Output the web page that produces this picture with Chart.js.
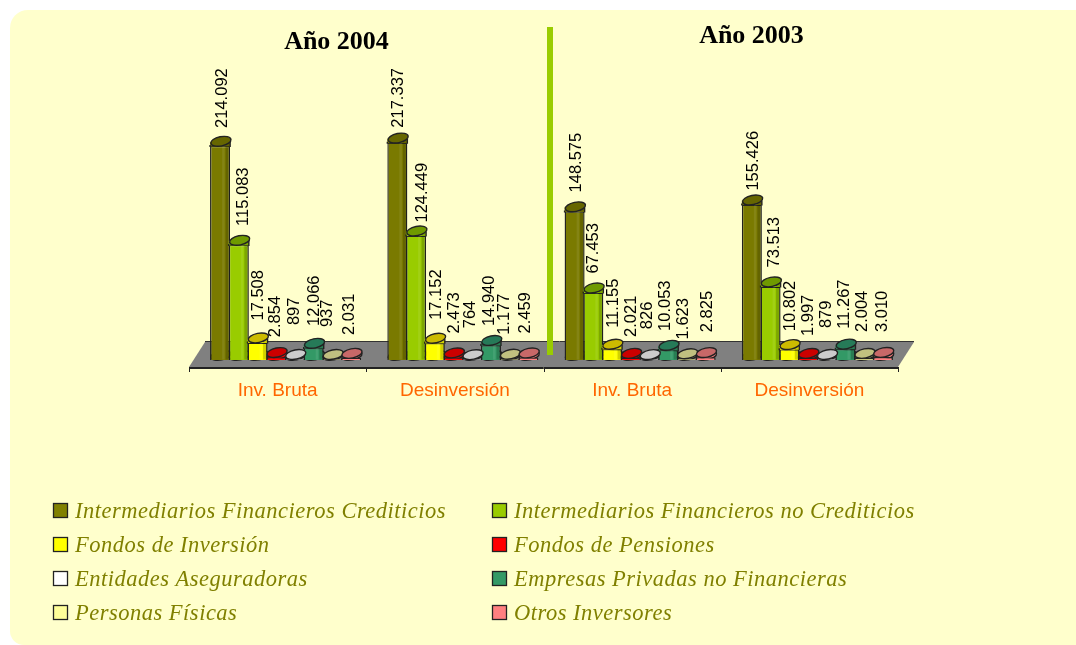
<!DOCTYPE html>
<html><head><meta charset="utf-8">
<style>html,body{margin:0;padding:0;background:#fff;overflow:hidden}#c{position:absolute;left:0;top:0}</style>
<script src="https://cdn.jsdelivr.net/npm/chart.js@4"></script>
</head><body>
<canvas id="c" width="1076" height="645"></canvas>
<script>
const categories = ['Inv. Bruta','Desinversión','Inv. Bruta','Desinversión'];
const seriesNames = ['Intermediarios Financieros Crediticios','Intermediarios Financieros no Crediticios','Fondos de Inversión','Fondos de Pensiones','Entidades Aseguradoras','Empresas Privadas no Financieras','Personas Físicas','Otros Inversores'];
const intermediariosCrediticios = [214092,217337,148575,155426];
const intermediariosNoCrediticios = [115083,124449,67453,73513];
const fondosInversion = [17508,17152,11155,10802];
const fondosPensiones = [2854,2473,2021,1997];
const entidadesAseguradoras = [897,764,826,879];
const empresasPrivadas = [12066,14940,10053,11267];
const personasFisicas = [937,1177,1623,2004];
const otrosInversores = [2031,2459,2825,3010];
const seriesValues = [intermediariosCrediticios,intermediariosNoCrediticios,fondosInversion,fondosPensiones,entidadesAseguradoras,empresasPrivadas,personasFisicas,otrosInversores];
const fills = ['#808000','#99CC00','#FFFF00','#FF0000','#FFFFFF','#339966','#FFFF99','#FF8080'];
const bodies = ['#7A7A00','#99CC00','#FFFF00','#FF0000','#DDDDDD','#339966','#C8C880','#FF8080'];
const caps = ['#666600','#6F9A00','#CCBB00','#CC0000','#CCCCCC','#267A58','#C0C080','#C86868'];
const yearTitles = ['Año 2004','Año 2003'];
// Label nudges, one row per series, one entry per category (overlap avoidance in the original).
const labelLift = [[18,15,19,14],[19,13,19,19],[22,23,21,18],[20,24,21,22],[34,31,30,31],[22,19,19,20],[32,24,19,26],[23,24,25,25]];
const labelShift = [[2.5,1,2,2],[5,6,0,4],[1,1.5,1,1],[-1,.5,1,0],[-1,-2,-2.5,0],[1,-2,-2.5,-1],[-5,-5,-3.5,-1.5],[-2,-3,2,-.5]];

const fmt = v => String(v).replace(/\B(?=(\d{3})+$)/g,'.');
const depth = 8;

const panel = { id:'panel', beforeDraw(chart){
  const c = chart.ctx;
  c.save(); c.fillStyle='#FFFFCC'; c.beginPath(); c.roundRect(10,10,1066,635,[18,0,0,14]); c.fill(); c.restore();
}};
function disc(c,x,y,w,fill,stroke){
  c.beginPath(); c.ellipse(x+.8,y,w/2+.2,4.6,-0.2,0,Math.PI*2);
  c.fillStyle=fill; c.fill(); c.lineWidth=1.4; c.strokeStyle=stroke||'#222'; c.stroke();
}
const floorAxis = { id:'floorAxis', beforeDatasetsDraw(chart){
  const c = chart.ctx, x = chart.scales.x, b = chart.chartArea.bottom;
  const l = x.left-depth, r = x.right-depth, t = b-18, f = b+7;
  c.save();
  c.fillStyle='#808080'; c.beginPath();
  c.moveTo(l,f); c.lineTo(l+16,t); c.lineTo(r+16,t); c.lineTo(r,f); c.closePath(); c.fill();
  c.strokeStyle='#333'; c.lineWidth=1;
  c.beginPath(); c.moveTo(l+16,t-.5); c.lineTo(r+16,t-.5); c.stroke();
  c.strokeStyle='#222'; c.lineWidth=1;
  c.beginPath();
  c.moveTo(l,f+.5); c.lineTo(r,f+.5);
  c.moveTo(l,f+1.5); c.lineTo(r,f+1.5);
  const w = (r-l)/categories.length;
  for(let i=0;i<=categories.length;i++){ const p=Math.round(l+w*i)+.5; c.moveTo(p,f); c.lineTo(p,f+5); }
  c.stroke();
  chart.data.datasets.forEach((d,i)=>chart.getDatasetMeta(i).data.forEach(el=>{
    disc(c,el.x,b-4.6,el.width,bodies[i],'#222');
  }));
  c.restore();
}};
const bars3d = { id:'bars3d', afterDatasetsDraw(chart){
  const c = chart.ctx, y = chart.scales.y, b = chart.chartArea.bottom;
  c.save();
  chart.data.datasets.forEach((d,i)=>chart.getDatasetMeta(i).data.forEach((el,j)=>{
    const w=el.width, l=el.x-w/2, top=y.getPixelForValue(d.data[j]), h=b-top;
    // body continues up behind the tilted cap
    if(h>4){
      c.fillStyle=bodies[i]; c.fillRect(l,top-4,w,4.5);
      c.strokeStyle='#222'; c.lineWidth=1.4;
      c.beginPath(); c.moveTo(l,top+1); c.lineTo(l,top-1); c.moveTo(l+w,top+1); c.lineTo(l+w,top-4); c.stroke();
      c.fillStyle='rgba(0,0,0,.18)'; c.fillRect(l+w-4.5,top-4,3.8,h+3.5);
      c.fillStyle='rgba(255,255,255,.08)'; c.fillRect(l+w-8,top-4,2.5,h+3.5);
    }
    disc(c,el.x,top-4.6,w,caps[i],'#222');
  }));
  c.fillStyle='#000'; c.font='16.5px "Liberation Sans"'; c.textAlign='left'; c.textBaseline='middle';
  chart.data.datasets.forEach((d,i)=>chart.getDatasetMeta(i).data.forEach((el,j)=>{
    const top=y.getPixelForValue(d.data[j]);
    c.save(); c.translate(el.x+labelShift[i][j],top-labelLift[i][j]); c.rotate(-Math.PI/2);
    c.fillText(fmt(d.data[j]),0,0); c.restore();
  }));
  c.restore();
}};
const divider = { id:'divider', afterDraw(chart){
  const c = chart.ctx;
  c.save(); c.fillStyle='#99CC00'; c.fillRect(547,27,6,328);
  c.fillStyle='#000'; c.font='bold 26px "Liberation Serif"'; c.textAlign='center'; c.textBaseline='middle';
  c.fillText(yearTitles[0],336.5,42); c.fillText(yearTitles[1],751.5,36);
  c.restore();
}};
const twoColumnLegend = { id:'twoColumnLegend', afterDraw(chart){
  const c = chart.ctx;
  c.save(); c.textAlign='left'; c.textBaseline='middle'; c.font='italic 22.5px "Liberation Serif"'; c.letterSpacing='0.5px';
  seriesNames.forEach((n,i)=>{
    const col=i%2, row=(i-col)/2, bx=col?492:53, cy=510.5+34*row;
    c.fillStyle=fills[i]; c.fillRect(bx+.5,cy-7,14,14);
    c.strokeStyle='#222'; c.lineWidth=1.3; c.strokeRect(bx+.5,cy-7,14,14);
    c.fillStyle='#808000'; c.fillText(n,bx+22,cy+1.5);
  });
  c.restore();
}};
new Chart(document.getElementById('c'),{
  type:'bar',
  data:{labels:categories,datasets:seriesValues.map((v,i)=>({label:seriesNames[i],data:v,backgroundColor:bodies[i],borderColor:'#222',borderWidth:1.4}))},
  options:{
    responsive:false,animation:false,devicePixelRatio:1,
    layout:{padding:{left:197,right:170,top:60,bottom:225}},
    plugins:{legend:{display:false},title:{display:false},tooltip:{enabled:false}},
    datasets:{bar:{categoryPercentage:.845,barPercentage:1.07}},
    scales:{
      x:{afterFit:s=>{s.height=60},border:{display:false},grid:{display:false,drawTicks:false},
         ticks:{color:'#FF6600',font:{family:'"Liberation Sans"',size:19},padding:19,labelOffset:-8,maxRotation:0,autoSkip:false}},
      y:{display:false,min:0,max:300000}
    }
  },
  plugins:[panel,floorAxis,bars3d,divider,twoColumnLegend]
});
</script></body></html>
